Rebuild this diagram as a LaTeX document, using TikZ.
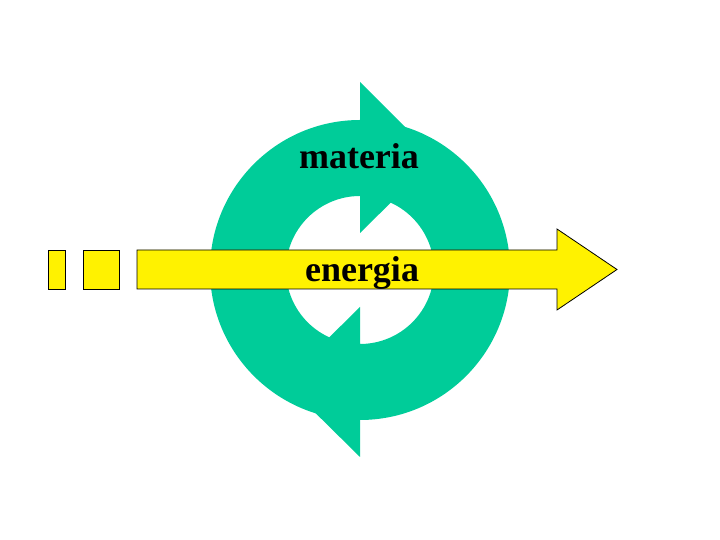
\documentclass[tikz,border=0pt]{standalone}
\usepackage{fontspec}
\setmainfont{Liberation Serif}
\usetikzlibrary{positioning}
\definecolor{cyclegreen}{RGB}{0,204,153}

\begin{document}
\begin{tikzpicture}[
      x=1pt, y=1pt,
      cycle/.style={fill=cyclegreen, draw=none},
      flow/.style={fill=yellow, draw=black, line width=0.8pt, line join=miter},
      label/.style={font=\bfseries\fontsize{36}{40}\selectfont, text=black, inner sep=0pt, anchor=base}
    ]
    \useasboundingbox (0,0) rectangle (720,540);

    % left half of the cycle, head pointing right at the top
    \fill[cycle] (360,120) arc[start angle=270, end angle=90, radius=150]
      -- (360,458) -- (436,382) -- (360,307) -- (360,344)
      arc[start angle=90, end angle=270, radius=74] -- cycle;
    % right half of the cycle, head pointing left at the bottom
    \fill[cycle] (360,420) arc[start angle=90, end angle=-90, radius=150]
      -- (360,83) -- (284,158) -- (360,233) -- (360,196)
      arc[start angle=-90, end angle=90, radius=74] -- cycle;

    % energy flow
    \draw[flow] (48,251) rectangle (65,290);
    \draw[flow] (83,251) rectangle (119,290);
    \draw[flow] (137,251) -- (557,251) -- (557,230) -- (617,270.5)
      -- (557,311) -- (557,290) -- (137,290) -- cycle;

    \node[label] (materia) at (359,371) {materia};
    \node[label] (energia) at (362,258.5) {energia};
  \end{tikzpicture}
\end{document}
